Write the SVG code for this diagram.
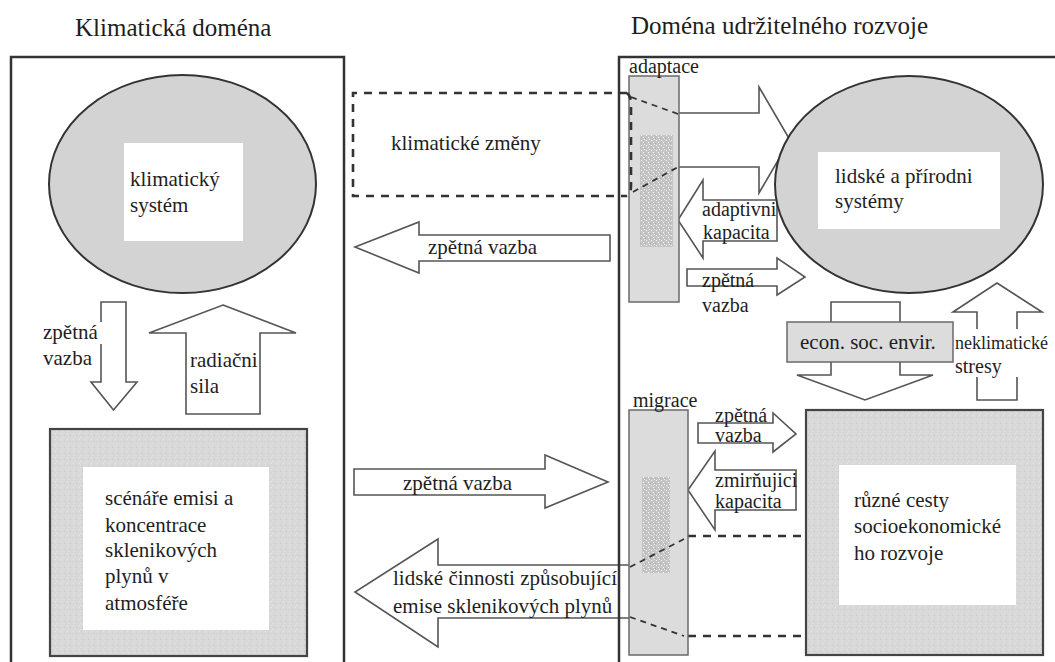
<svg xmlns="http://www.w3.org/2000/svg" width="1055" height="662" viewBox="0 0 1055 662">
  <style>
    text { font-family: "Liberation Serif", Tinos, "Noto Serif", "DejaVu Serif", "Times New Roman", serif; fill: #1e1e1e; }
    .title { font-size: 25px; }
    .body { font-size: 21px; }
    .small { font-size: 20px; }
    .tight { font-size: 18px; }
    .frame { fill: none; stroke: #333; stroke-width: 2.5; }
    .arrow { fill: #fff; stroke: #555; stroke-width: 1.6; stroke-linejoin: miter; }
    .oval { fill: #d3d3d3; stroke: #333; stroke-width: 2; }
    .box { fill: url(#grain); stroke: #444; stroke-width: 2.2; }
    .hole { fill: #fff; }
    .bar { fill: #dcdcdc; stroke: #6a6a6a; stroke-width: 1.5; }
    .core { fill: url(#speckle); }
    .dash { fill: none; stroke: #333; stroke-width: 2.6; stroke-dasharray: 8 7; }
    .dash-thin { fill: none; stroke: #333; stroke-width: 1.8; stroke-dasharray: 6 5; }
  </style>
  <defs>
    <pattern id="grain" width="6" height="6" patternUnits="userSpaceOnUse">
      <rect width="6" height="6" fill="#d8d8d8"/>
      <rect x="1" y="1" width="1" height="1" fill="#e8e8e8"/>
      <rect x="4" y="3" width="1" height="1" fill="#c8c8c8"/>
      <rect x="2" y="5" width="1" height="1" fill="#e4e4e4"/>
    </pattern>
    <pattern id="speckle" width="5" height="5" patternUnits="userSpaceOnUse">
      <rect width="5" height="5" fill="#c4c4c4"/>
      <rect x="1" y="0" width="1" height="1" fill="#f2f2f2"/>
      <rect x="3" y="2" width="1" height="1" fill="#fafafa"/>
      <rect x="0" y="3" width="1" height="1" fill="#b0b0b0"/>
      <rect x="4" y="4" width="1" height="1" fill="#eeeeee"/>
    </pattern>
  </defs>

  <rect width="1055" height="662" fill="#fff"/>

  <!-- domain titles -->
  <text class="title" x="75" y="36">Klimatická doména</text>
  <text class="title" x="631" y="34">Doména udržitelného rozvoje</text>

  <!-- connectors: block arrows and dashed channels -->
  <g id="connectors">
    <!-- left column: feedback down, radiative forcing up -->
    <polygon class="arrow" points="101,302 126,302 126,382 137,382 113.5,410 91,382 101,382"/>
    <polygon class="arrow" points="223,305 296,333 260,333 260,414 186,414 186,333 149,333"/>

    <!-- climate change channel (dashed), narrowing through adaptation -->
    <path class="dash" d="M627,93 H353 V196 H627"/>
    <path class="arrow" d="M678,113 H759 V87 L790,140 L759,193 V167 H678"/>

    <!-- feedback back to climate domain -->
    <polygon class="arrow" points="355,247 419,222 419,235 610,235 610,261 419,261 419,273"/>
    <!-- feedback into development domain -->
    <polygon class="arrow" points="354,469 545,469 545,455 608,482 545,508 545,495 354,495"/>

    <!-- emissions channel from development pathways -->
    <path class="arrow" d="M632,565 H438 V539 L355,592 L438,647 V618 H632"/>
    <path class="dash" d="M688,536 H806"/>
    <path class="dash" d="M688,636 H806"/>

    <!-- adaptive capacity and small feedback arrows -->
    <polygon class="arrow" points="678,220 703,180 703,200 777,200 777,241 703,241 703,258"/>
    <polygon class="arrow" points="687,269 777,269 777,258 805,277 777,295 777,286 687,286"/>
    <polygon class="arrow" points="698,423 773,423 773,413 796,434 773,452 773,443 698,443"/>
    <polygon class="arrow" points="688,490 715,451 715,470 796,470 796,510 715,510 715,530"/>

    <!-- econ. soc. envir. down arrow -->
    <path class="arrow" d="M831,322 V302 H900 V322"/>
    <path class="arrow" d="M831,362 V375 H797 L865,400 L933,375 H900 V362"/>

    <!-- non-climate stresses up arrow -->
    <polygon class="arrow" points="997,283 1042,312 1017,312 1017,400 977,400 977,312 953,312"/>
  </g>

  <!-- arrow labels -->
  <g id="arrow-labels">
    <rect x="42" y="322" width="60" height="22" fill="#fff"/>
    <text class="body" x="43" y="339">zpětná</text>
    <text class="body" x="43" y="365">vazba</text>
    <text class="body" x="190" y="367">radiačni</text>
    <text class="body" x="190" y="393">sila</text>
    <text class="body" x="391" y="150">klimatické změny</text>
    <text class="body" x="428" y="254">zpětná vazba</text>
    <text class="body" x="403" y="490">zpětná vazba</text>
    <text class="body" x="393" y="585">lidské činnosti způsobující</text>
    <text class="body" x="393" y="613">emise sklenikových plynů</text>
    <text class="small" x="702" y="216">adaptivni</text>
    <text class="small" x="703" y="239">kapacita</text>
    <text class="small" x="702" y="287">zpětná</text>
    <text class="small" x="702" y="312">vazba</text>
    <text class="small" x="715" y="422">zpětná</text>
    <text class="small" x="715" y="442">vazba</text>
    <text class="small" x="715" y="487">zmirňujici</text>
    <text class="small" x="715" y="508">kapacita</text>
    <rect x="955" y="329" width="100" height="48" fill="#fff"/>
    <text class="tight" x="955" y="349">neklimatické</text>
    <text class="small" x="955" y="373">stresy</text>
  </g>

  <!-- climate system -->
  <g id="climate-system">
    <ellipse class="oval" cx="182.5" cy="184" rx="133.5" ry="109"/>
    <rect class="hole" x="124" y="143" width="119" height="98"/>
    <text class="body" x="130" y="186">klimatický</text>
    <text class="body" x="130" y="212">systém</text>
  </g>

  <!-- emission scenarios -->
  <g id="emission-scenarios">
    <rect class="box" x="50" y="429" width="257" height="227"/>
    <rect class="hole" x="83" y="467" width="186" height="163"/>
    <text class="body" x="105" y="505">scénáře emisi a</text>
    <text class="body" x="105" y="532">koncentrace</text>
    <text class="body" x="105" y="557">sklenikových</text>
    <text class="body" x="105" y="583">plynů v</text>
    <text class="body" x="105" y="610">atmosféře</text>
  </g>

  <!-- human and natural systems -->
  <g id="human-natural-systems">
    <ellipse class="oval" cx="909" cy="184.5" rx="134" ry="108.5"/>
    <rect class="hole" x="818" y="152" width="182" height="77"/>
    <text class="body" x="835" y="183">lidské a přírodni</text>
    <text class="body" x="835" y="208">systémy</text>
  </g>

  <!-- adaptation bar with the narrowing climate-change channel -->
  <g id="adaptation">
    <rect class="bar" x="629" y="76" width="50" height="226"/>
    <rect class="core" x="640" y="135" width="33" height="112"/>
    <path class="dash" d="M627,93 Q631,96 631,104 V186 Q631,194 627,196"/>
    <path class="dash-thin" d="M631,97 L678,114"/>
    <path class="dash-thin" d="M633,192 L678,167"/>
    <text class="small" x="629" y="73">adaptace</text>
  </g>

  <!-- migration bar with the narrowing emissions channel -->
  <g id="migration">
    <rect class="bar" x="629" y="410" width="59" height="245"/>
    <rect class="core" x="642" y="477" width="28" height="96"/>
    <path class="dash-thin" d="M630,567 L684,539"/>
    <path class="dash-thin" d="M630,617 L684,636"/>
    <text class="small" x="633" y="407">migrace</text>
  </g>

  <!-- econ. soc. envir. box -->
  <g id="econ-soc-envir">
    <rect class="bar" x="787" y="322" width="166" height="40"/>
    <text class="body" x="800" y="349">econ. soc. envir.</text>
  </g>

  <!-- development pathways -->
  <g id="development-pathways">
    <rect class="box" x="806" y="410" width="237" height="245"/>
    <rect class="hole" x="839" y="465" width="177" height="140"/>
    <text class="body" x="854" y="507">různé cesty</text>
    <text class="body" x="854" y="533">socioekonomické</text>
    <text class="body" x="854" y="560">ho rozvoje</text>
  </g>

  <!-- domain frames -->
  <g id="domains">
    <rect class="frame" x="11" y="57" width="333" height="630"/>
    <rect class="frame" x="619" y="57" width="460" height="630"/>
  </g>
</svg>
